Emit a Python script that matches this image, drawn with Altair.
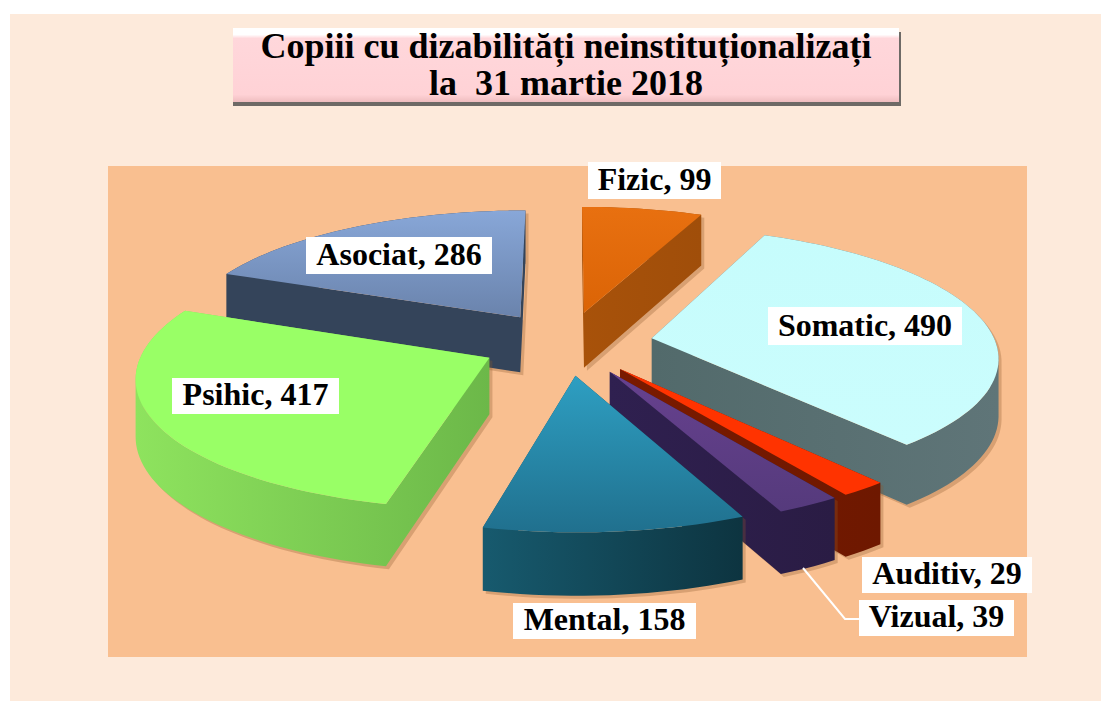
import math
import altair as alt

W, H, OFF = 1093, 693, 8

TITLE_LINES = ["Copiii cu dizabilități neinstituționalizați", "la\u00a0 31 martie 2018"]
CATEGORIES = ["Fizic", "Somatic", "Auditiv", "Vizual", "Mental", "Psihic", "Asociat"]
VALUES = [99, 490, 29, 39, 158, 417, 286]

# styling, by category: top-face gradient (start, end), side gradient (start, end)
TOP = {"Fizic": ("#E87010", "#DB6406"), "Somatic": ("#C6FCFC", "#CBFDFD"), "Auditiv": ("#FF3300", "#FF3300"),
       "Vizual": ("#67418F", "#553A7C"), "Mental": ("#2E9FC2", "#20708E"), "Psihic": ("#99FF66", "#99FF66"),
       "Asociat": ("#88A7D8", "#6A83AC")}
SIDE = {"Fizic": ("#A8520A", "#A04E0A"), "Somatic": ("#526A6B", "#5F7578"), "Auditiv": ("#7A1A00", "#6E1800"),
        "Vizual": ("#2F2050", "#2A1C44"), "Mental": ("#175A6E", "#0D3440"), "Psihic": ("#8EE35E", "#6CB849"),
        "Asociat": ("#34445A", "#34445A")}
PAINT_ORDER = ["Fizic", "Asociat", "Somatic", "Auditiv", "Vizual", "Mental", "Psihic"]

# label layout: box left, box right, box top, box bottom
LABEL_BOXES = {"Fizic": (588, 721, 162, 199), "Somatic": (768, 962, 307, 345), "Auditiv": (862, 1032, 557, 593),
               "Vizual": (859, 1014, 600, 636), "Mental": (513, 696, 603, 639), "Psihic": (172, 339, 378, 414),
               "Asociat": (306, 492, 237, 274)}

# pie view parameters
CX, CY, A, B, K, EXPLODE, DEPTH = 567, 343, 344, 127, 0.13, 0.25, 56


def project(X, Y, z=0.0):
    p = 1 / (1 - K * Y)
    return [CX + A * X * p - OFF, CY + B * Y * p + z * DEPTH * p ** 0.7 - OFF]


def wedge(theta0, theta1):
    mid = (theta0 + theta1) / 2
    ex, ey = EXPLODE * math.sin(mid), -EXPLODE * math.cos(mid)
    n = max(3, int((theta1 - theta0) / 0.03))
    pts = [(ex, ey)]
    for i in range(n + 1):
        t = theta0 + (theta1 - theta0) * i / n
        pts.append((ex + math.sin(t), ey - math.cos(t)))
    return pts


def oriented(ring):
    area = sum(ring[i][0] * ring[(i + 1) % len(ring)][1] - ring[(i + 1) % len(ring)][0] * ring[i][1]
               for i in range(len(ring)))
    return ring if area >= 0 else ring[::-1]


def feature(rings):
    return {"type": "Feature", "properties": {},
            "geometry": {"type": "MultiPolygon",
                         "coordinates": [[oriented(r) + [oriented(r)[0]]] for r in rings]}}


def grad(c0, c1, horizontal=False):
    return alt.Gradient(gradient="linear", x1=0, y1=0, x2=1 if horizontal else 0, y2=0 if horizontal else 1,
                        stops=[alt.GradientStop(offset=0, color=c0), alt.GradientStop(offset=1, color=c1)])


PROJ = dict(type="identity", scale=1, translate=[0, 0])


def shape(rings, **mark):
    return alt.Chart(alt.InlineData(values=[feature(rings)])).mark_geoshape(**mark).project(**PROJ)


xs = alt.Scale(domain=[OFF, W + OFF], range=[0, W])
ys = alt.Scale(domain=[OFF, H + OFF], range=[0, H])


def rect(x0, x1, y0, y1, **mark):
    return alt.Chart(alt.Data(values=[{"a": x0, "b": x1, "c": y0, "d": y1}])).mark_rect(**mark).encode(
        x=alt.X("a:Q", scale=xs, axis=None), x2="b:Q",
        y=alt.Y("c:Q", scale=ys, axis=None), y2="d:Q")


def text(s, x, y, size):
    return alt.Chart(alt.Data(values=[{"t": s, "a": x, "c": y}])).mark_text(
        font="Liberation Serif", fontWeight="bold", fontSize=size, color="#000000", align="center",
        baseline="alphabetic").encode(x=alt.X("a:Q", scale=xs, axis=None), y=alt.Y("c:Q", scale=ys, axis=None),
                                      text="t:N")


layers = [
    rect(10, 1101, 14, 701, fill="#FDEADB"),
    rect(108, 1027, 166, 657, fill="#F9BF90"),
    rect(233, 901, 32, 106, fill="#6E6A66"),
    rect(233, 899, 28, 102, fill=alt.Gradient(
        gradient="linear", x1=0, y1=0, x2=0, y2=1,
        stops=[alt.GradientStop(offset=0, color="#FFFFFF"), alt.GradientStop(offset=0.09, color="#FFFFFF"),
               alt.GradientStop(offset=0.14, color="#FFD7DB"), alt.GradientStop(offset=0.9, color="#FFD2D6"),
               alt.GradientStop(offset=1, color="#EFBDBF")])),
    text(TITLE_LINES[0], 566, 58, 36),
    text(TITLE_LINES[1], 566, 95, 36),
]

total = sum(VALUES)
angles = {}
acc = 0
for c, v in zip(CATEGORIES, VALUES):
    angles[c] = (2 * math.pi * acc / total, 2 * math.pi * (acc + v) / total)
    acc += v

for c in PAINT_ORDER:
    pts = wedge(*angles[c])
    top = [project(x, y) for x, y in pts]
    bottom = [project(x, y, 1) for x, y in pts]
    n = len(pts)
    quads = [[top[i], top[(i + 1) % n], bottom[(i + 1) % n], bottom[i]] for i in range(n)]
    shadow = [[[px + 3, py + 3] for px, py in q] for q in quads]
    layers.append(shape(shadow, fill="#8A5A30", opacity=0.3))
    s0, s1 = SIDE[c]
    layers.append(shape(quads, fill=grad(s0, s1, horizontal=True)))
    t0, t1 = TOP[c]
    layers.append(shape([top], fill=grad(t0, t1)))

leader = alt.Chart(alt.Data(values=[{"a": 803, "c": 568, "o": 0}, {"a": 845, "c": 619, "o": 1},
                                    {"a": 859, "c": 619, "o": 2}])).mark_line(color="#FFFFFF", strokeWidth=2).encode(
    x=alt.X("a:Q", scale=xs, axis=None), y=alt.Y("c:Q", scale=ys, axis=None), order="o:Q")
layers.append(leader)

for c, v in zip(CATEGORIES, VALUES):
    x0, x1, y0, y1 = LABEL_BOXES[c]
    layers.append(rect(x0, x1, y0, y1, fill="#FFFFFF"))
    layers.append(text(f"{c}, {v}", (x0 + x1) / 2, y1 - 9, 32))

chart = alt.layer(*layers).properties(width=W, height=H, padding=0, autosize=alt.AutoSizeParams(type="none")).configure_view(stroke=None)
chart.save("out.html", embed_options={"renderer": "svg", "actions": False})
